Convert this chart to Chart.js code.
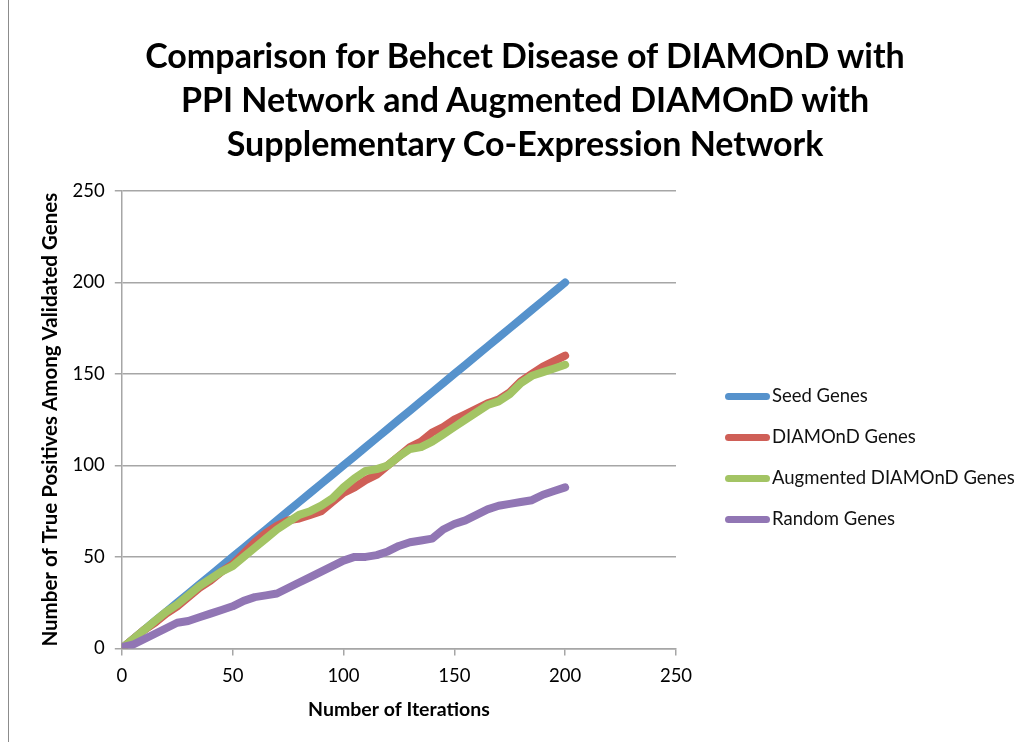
<!DOCTYPE html>
<html>
<head>
<meta charset="utf-8">
<title>Behcet Disease - DIAMOnD comparison</title>
<script src="https://cdn.jsdelivr.net/npm/chart.js@4"></script>
<style>
  html, body { margin: 0; padding: 0; background: #fff; }
  #wrap { position: relative; width: 1034px; height: 742px; }
  #frame { position: absolute; left: 8px; top: 0; width: 0; height: 742px; border-left: 1px solid #8c8c8c; }
  #title { position: absolute; left: 8px; width: 1034px; top: 33px; text-align: center;
           font-family: Lato, "Open Sans", sans-serif; font-weight: bold; font-size: 34px; line-height: 44px; color: #000; }
  #legend { position: absolute; left: 725px; top: 384px; font-family: Lato, "Open Sans", sans-serif; font-size: 18.5px; color: #111; }
  .item { height: 41px; display: flex; align-items: flex-start; }
  .swatch { width: 45px; height: 7px; border-radius: 4px; margin-top: 9px; margin-right: 2px; }
</style>
</head>
<body>
<div id="wrap">
  <div id="frame"></div>
  <canvas id="graph" width="1034" height="742"></canvas>
  <div id="title"></div>
  <div id="legend"></div>
</div>
<script>
/**
 * Seed genes vs DIAMOnD vs augmented DIAMOnD vs random
 * every 5 iterations.
 **/

const iterations = [1, 5, 10, 15, 20, 25, 30, 35, 40, 45, 50, 55, 60, 65, 70, 75, 80, 85, 90, 95,
    100, 105, 110, 115, 120, 125, 130, 135, 140, 145, 150, 155, 160, 165, 170, 175, 180, 185, 190, 195, 200];

const seedGenes = [1, 5, 10, 15, 20, 25, 30, 35, 40, 45, 50, 55, 60, 65, 70, 75, 80, 85, 90, 95,
    100, 105, 110, 115, 120, 125, 130, 135, 140, 145, 150, 155, 160, 165, 170, 175, 180, 185, 190, 195, 200];

const diamondGenes = [1, 5, 10, 14, 19, 23, 28, 33, 37, 42, 46, 52, 58, 63, 67, 70, 71, 73, 75, 80,
    85, 88, 92, 95, 100, 105, 110, 113, 118, 121, 125, 128, 131, 134, 136, 140, 146, 150, 154, 157, 160];

const augmentedGenes = [1, 5, 10, 15, 20, 24, 29, 34, 38, 42, 45, 50, 55, 60, 65, 69, 73, 75, 78, 82,
    88, 93, 97, 98, 100, 105, 109, 110, 113, 117, 121, 125, 129, 133, 135, 139, 145, 149, 151, 153, 155];

const randomGenes = [1, 2, 5, 8, 11, 14, 15, 17, 19, 21, 23, 26, 28, 29, 30, 33, 36, 39, 42, 45,
    48, 50, 50, 51, 53, 56, 58, 59, 60, 65, 68, 70, 73, 76, 78, 79, 80, 81, 84, 86, 88];

const xTicks = [0, 50, 100, 150, 200, 250];
const yTicks = [0, 50, 100, 150, 200, 250];

const seriesNames = ['Seed Genes', 'DIAMOnD Genes', 'Augmented DIAMOnD Genes', 'Random Genes'];
const seriesColors = ['#5692cc', '#cf5f57', '#a3c464', '#9176b4'];

const titleLines = [
    'Comparison for Behcet Disease of DIAMOnD with',
    'PPI Network and Augmented DIAMOnD with',
    'Supplementary Co-Expression Network'
];

const FONT = 'Lato, "Open Sans", sans-serif';

// Helper to zip x values with a series:
const toPoints = (ys) => iterations.map((x, i) => ({ x: x, y: ys[i] }));

const allSeries = [seedGenes, diamondGenes, augmentedGenes, randomGenes];
const datasets = allSeries.map((ys, i) => ({
    label: seriesNames[i],
    data: toPoints(ys),
    borderColor: seriesColors[i],
    backgroundColor: seriesColors[i],
    borderWidth: 8,
    borderCapStyle: 'round',
    borderJoinStyle: 'round',
    pointRadius: 0,
    tension: 0
}));

// Draw the first series last so the blue line sits on top like the original
datasets.reverse();

const ctx = document.getElementById('graph').getContext('2d');

new Chart(ctx, {
    type: 'line',
    data: { datasets: datasets },
    options: {
        responsive: false,
        animation: false,
        layout: { padding: { left: 38, right: 358, top: 191, bottom: 10 } },
        plugins: {
            legend: { display: false },
            tooltip: { enabled: false }
        },
        scales: {
            x: {
                type: 'linear',
                min: 0,
                max: 250,
                afterBuildTicks: (axis) => { axis.ticks = xTicks.map(v => ({ value: v })); },
                ticks: { color: '#000', font: { family: FONT, size: 18.5 }, padding: 10 },
                grid: { display: true, drawOnChartArea: false, drawTicks: true, tickLength: 7, color: '#a6a6a6', lineWidth: 1.5 },
                border: { display: true, color: '#a6a6a6', width: 1.5 },
                title: {
                    display: true,
                    text: 'Number of Iterations',
                    color: '#000',
                    font: { family: FONT, size: 19.5, weight: 'bold' },
                    padding: { top: 0, bottom: 11 }
                }
            },
            y: {
                type: 'linear',
                min: 0,
                max: 250,
                afterBuildTicks: (axis) => { axis.ticks = yTicks.map(v => ({ value: v })); },
                ticks: { color: '#000', font: { family: FONT, size: 18.5 }, padding: 10 },
                grid: { color: '#a6a6a6', lineWidth: 1.5, tickLength: 7 },
                border: { display: true, color: '#a6a6a6', width: 1.5 },
                title: {
                    display: true,
                    text: 'Number of True Positives Among Validated Genes',
                    color: '#000',
                    font: { family: FONT, size: 20.5, weight: 'bold' },
                    padding: { top: 0, bottom: 0 }
                }
            }
        }
    }
});

// Title above the plot, centred on the whole frame:
const title = document.getElementById('title');
titleLines.forEach((line) => {
    const d = document.createElement('div');
    d.textContent = line;
    title.appendChild(d);
});

// Legend drawn beside the plot:
const legend = document.getElementById('legend');
seriesNames.forEach((name, i) => {
    const item = document.createElement('div');
    item.className = 'item';
    const sw = document.createElement('div');
    sw.className = 'swatch';
    sw.style.background = seriesColors[i];
    const label = document.createElement('span');
    label.textContent = name;
    item.appendChild(sw);
    item.appendChild(label);
    legend.appendChild(item);
});
</script>
</body>
</html>
